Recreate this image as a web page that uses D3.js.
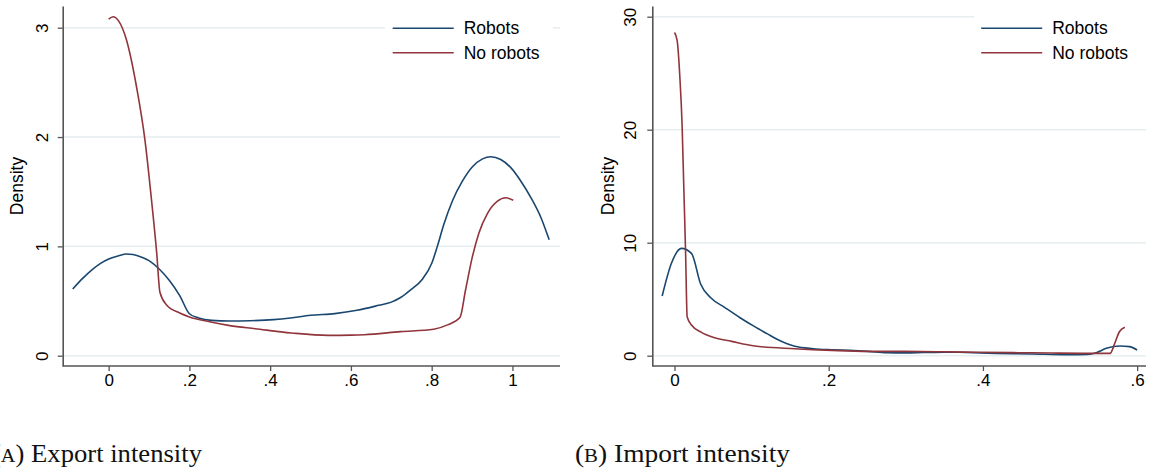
<!DOCTYPE html>
<html>
<head>
<meta charset="utf-8">
<script src="https://cdn.jsdelivr.net/npm/d3@7"></script>
<style>
  html, body { margin: 0; padding: 0; background: #fff; }
  svg { display: block; }
</style>
</head>
<body>
<svg id="chart" width="1149" height="472"></svg>
<script>
// Kernel density estimates: [intensity, density]
const exportRobots = [
  [-0.089, 0.61], [-0.065, 0.705], [-0.04, 0.79], [-0.02, 0.845], [0, 0.885],
  [0.025, 0.915], [0.044, 0.93], [0.06, 0.925], [0.077, 0.908], [0.1, 0.87],
  [0.127, 0.786], [0.15, 0.69], [0.176, 0.55], [0.2, 0.384], [0.223, 0.345],
  [0.255, 0.323], [0.3, 0.317], [0.35, 0.32], [0.408, 0.33], [0.45, 0.345],
  [0.5, 0.37], [0.56, 0.385], [0.615, 0.415], [0.669, 0.461], [0.7, 0.49],
  [0.723, 0.532], [0.748, 0.603], [0.777, 0.70], [0.801, 0.853], [0.814, 1.0],
  [0.83, 1.2], [0.851, 1.413], [0.876, 1.596], [0.901, 1.728], [0.926, 1.80],
  [0.946, 1.82], [0.971, 1.795], [0.996, 1.72], [1.021, 1.596], [1.046, 1.444],
  [1.071, 1.26], [1.091, 1.06]
];
const exportNoRobots = [
  [0, 3.078], [0.011, 3.10], [0.025, 3.06], [0.044, 2.89], [0.069, 2.46],
  [0.09, 1.97], [0.106, 1.43], [0.119, 0.94], [0.127, 0.58], [0.143, 0.466],
  [0.176, 0.39], [0.2, 0.354], [0.25, 0.31], [0.3, 0.275], [0.363, 0.247],
  [0.453, 0.208], [0.543, 0.186], [0.6, 0.188], [0.633, 0.192], [0.723, 0.22],
  [0.805, 0.242], [0.839, 0.282], [0.87, 0.349], [0.884, 0.603], [0.901, 0.908],
  [0.917, 1.123], [0.938, 1.30], [0.963, 1.413], [0.983, 1.444], [1.002, 1.422]
];
const importRobots = [
  [-0.016, 5.28], [-0.004, 8.18], [0.009, 9.5], [0.022, 9.06], [0.034, 6.32],
  [0.047, 5.13], [0.065, 4.28], [0.085, 3.36], [0.104, 2.57], [0.12, 1.95],
  [0.133, 1.45], [0.156, 0.83], [0.18, 0.62], [0.204, 0.53], [0.227, 0.47],
  [0.251, 0.38], [0.275, 0.27], [0.3, 0.25], [0.322, 0.28], [0.35, 0.32],
  [0.369, 0.3], [0.417, 0.21], [0.464, 0.15], [0.511, 0.09], [0.535, 0.12],
  [0.547, 0.27], [0.56, 0.65], [0.578, 0.86], [0.59, 0.8], [0.6, 0.5]
];
const importNoRobots = [
  [0, 28.6], [0.0034, 27.9], [0.0069, 24.7], [0.0099, 20.3], [0.012, 15.0],
  [0.0143, 9.35], [0.0164, 3.45], [0.022, 2.72], [0.035, 2.07], [0.05, 1.63],
  [0.074, 1.27], [0.104, 0.86], [0.156, 0.62], [0.204, 0.47], [0.251, 0.38],
  [0.298, 0.38], [0.346, 0.35], [0.393, 0.3], [0.44, 0.27], [0.488, 0.24],
  [0.535, 0.21], [0.565, 0.21], [0.571, 1.1], [0.577, 2.12], [0.584, 2.51]
];

const exportXTicks = [0, 0.2, 0.4, 0.6, 0.8, 1];
const exportXLabels = ["0", ".2", ".4", ".6", ".8", "1"];
const exportYTicks = [0, 1, 2, 3];
const importXTicks = [0, 0.2, 0.4, 0.6];
const importXLabels = ["0", ".2", ".4", ".6"];
const importYTicks = [0, 10, 20, 30];

const seriesNames = ["Robots", "No robots"];
const captions = [["(", "A", ") Export intensity"], ["(", "B", ") Import intensity"]];

const BLUE = "#1a476f", RED = "#90353b", GRID = "#e6eef0", AXIS = "#555";
const SANS = "'Liberation Sans', Arial, Helvetica, sans-serif";
const SERIF = "'Liberation Serif', 'Times New Roman', serif";

const svg = d3.select("#chart");

function drawPanel(o) {
  const x = d3.scaleLinear().domain(o.xDomain).range(o.xRange);
  const y = d3.scaleLinear().domain(o.yDomain).range([366, 6]);
  const g = svg.append("g");

  // horizontal gridlines
  g.selectAll("line.grid").data(o.yTicks).join("line")
    .attr("x1", o.xRange[0]).attr("x2", o.xRange[1])
    .attr("y1", d => y(d)).attr("y2", d => y(d))
    .attr("stroke", GRID).attr("stroke-width", 1.5);

  // density curves
  const line = d3.line().x(d => x(d[0])).y(d => y(d[1])).curve(d3.curveMonotoneX);
  [[o.robots, BLUE], [o.noRobots, RED]].forEach(([data, col]) => {
    g.append("path").datum(data).attr("d", line)
      .attr("fill", "none").attr("stroke", col).attr("stroke-width", 1.6)
      .attr("stroke-linejoin", "round");
  });

  // legend
  const lg = g.append("g");
  lg.append("rect").attr("x", o.legend.boxX).attr("y", 10)
    .attr("width", o.legend.boxW).attr("height", 58).attr("fill", "#fff");
  seriesNames.forEach((name, i) => {
    const ly = 28.3 + i * 24.4;
    lg.append("line").attr("x1", o.legend.lineX).attr("x2", o.legend.lineX + 61)
      .attr("y1", ly).attr("y2", ly)
      .attr("stroke", i === 0 ? BLUE : RED).attr("stroke-width", 1.6);
    lg.append("text").attr("x", o.legend.lineX + 71).attr("y", ly)
      .attr("dy", "0.35em").attr("font-family", SANS).attr("font-size", 17.5)
      .attr("fill", "#000").text(name);
  });

  // x axis
  const xa = g.append("g").attr("transform", "translate(0,366)")
    .call(d3.axisBottom(x).tickValues(o.xTicks)
      .tickFormat((d, i) => o.xLabels[i]).tickSize(5).tickSizeOuter(0).tickPadding(3));
  // y axis
  const ya = g.append("g").attr("transform", `translate(${o.xRange[0]},0)`)
    .call(d3.axisLeft(y).tickValues(o.yTicks).tickSize(5).tickSizeOuter(0).tickFormat(d3.format("d")));
  [xa, ya].forEach(a => {
    a.select(".domain").attr("stroke", AXIS).attr("stroke-width", 1.6);
    a.selectAll(".tick line").attr("stroke", AXIS).attr("stroke-width", 1.3);
    a.selectAll("text").attr("font-family", SANS).attr("font-size", 17).attr("fill", "#000");
  });
  // make sure the x axis line reaches the y axis
  xa.select(".domain").attr("d", `M${o.xRange[0]},0H${o.xRange[1]}`);

  ya.selectAll(".tick text")
    .attr("x", null).attr("dy", null)
    .attr("text-anchor", "middle")
    .attr("transform", `translate(${o.yLabelX - o.xRange[0]},0) rotate(-90)`)
    .attr("dominant-baseline", "central");

  g.append("text")
    .attr("transform", `translate(${o.titleX},186) rotate(-90)`)
    .attr("text-anchor", "middle").attr("dominant-baseline", "central")
    .attr("font-family", SANS).attr("font-size", 17.5).attr("fill", "#000")
    .text("Density");

  // subfigure caption
  const cap = svg.append("text").attr("x", o.capX).attr("y", 462)
    .attr("font-family", SERIF).attr("font-size", 25).attr("fill", "#111")
    .attr("textLength", o.capW).attr("lengthAdjust", "spacingAndGlyphs");
  cap.append("tspan").text(o.caption[0]);
  cap.append("tspan").attr("font-size", 19).text(o.caption[1]);
  cap.append("tspan").text(o.caption[2]);
}

drawPanel({
  xDomain: [-0.1138, 1.1178], xRange: [62.7, 560],
  yDomain: [-0.0942, 3.1985],
  xTicks: exportXTicks, xLabels: exportXLabels, yTicks: exportYTicks,
  robots: exportRobots, noRobots: exportNoRobots,
  legend: { boxX: 385, boxW: 168, lineX: 392.7 },
  yLabelX: 42, titleX: 16.5,
  caption: captions[0], capX: -8, capW: 210
});

drawPanel({
  xDomain: [-0.0288, 0.6115], xRange: [652.3, 1146],
  yDomain: [-0.911, 30.947],
  xTicks: importXTicks, xLabels: importXLabels, yTicks: importYTicks,
  robots: importRobots, noRobots: importNoRobots,
  legend: { boxX: 974, boxW: 175, lineX: 981.2 },
  yLabelX: 630, titleX: 608,
  caption: captions[1], capX: 575, capW: 215
});
</script>
</body>
</html>
